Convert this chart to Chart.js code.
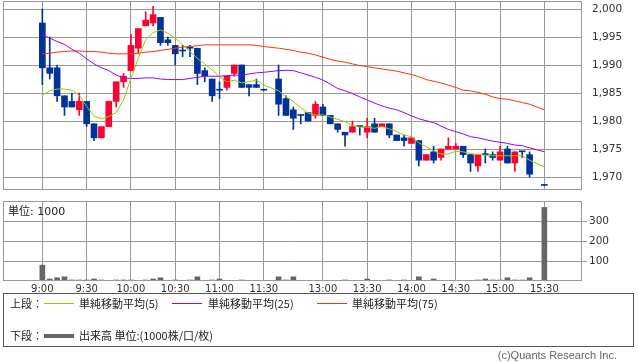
<!DOCTYPE html>
<html>
<head>
<meta charset="utf-8">
<script src="https://cdn.jsdelivr.net/npm/chart.js@4.4.1/dist/chart.umd.min.js"></script>
<style>
  body { margin: 0; background: #fff; width: 638px; height: 362px; overflow: hidden; position: relative; font-family: "DejaVu Sans", sans-serif; }
  canvas { position: absolute; left: 0; }
  #price { top: 0; }
  #vol { top: 196px; }
  .unit { position: absolute; left: 8px; top: 202px; font-size: 11px; color: #222; font-family: "DejaVu Sans", "Noto Sans CJK JP", sans-serif; }
  .legend { position: absolute; left: 3px; top: 293px; width: 629px; height: 52px; border: 1px solid #555; font-family: "Noto Sans CJK JP", sans-serif; font-size: 11px; color: #222; }
  .legend span { position: absolute; white-space: nowrap; line-height: 14px; }
  .legend i { position: absolute; width: 30px; }
  .copy { position: absolute; right: 21px; top: 349px; font-size: 11px; color: #666; font-family: "Liberation Sans", sans-serif; }
</style>
</head>
<body>
<canvas id="price" width="638" height="192"></canvas>
<canvas id="vol" width="638" height="100"></canvas>
<div class="unit">単位: 1000</div>
<div class="legend">
  <span style="left:6px;top:2px">上段：</span>
  <i style="left:40px;top:9px;height:1px;background:#99cc00"></i>
  <span style="left:75px;top:2px">単純移動平均(5)</span>
  <i style="left:168px;top:9px;height:1px;background:#9900ff"></i>
  <span style="left:204px;top:2px">単純移動平均(25)</span>
  <i style="left:313px;top:9px;height:1px;background:#ff3300"></i>
  <span style="left:348px;top:2px">単純移動平均(75)</span>
  <span style="left:6px;top:34px">下段：</span>
  <i style="left:40px;top:40px;height:4px;background:#666"></i>
  <span style="left:75px;top:34px">出来高 単位:(1000株/口/枚)</span>
</div>
<div class="copy">(c)Quants Research Inc.</div>
<script>
// 5-minute slots; '' is the lunch spacer
const times = [
  '9:00','9:05','9:10','9:15','9:20','9:25','9:30','9:35','9:40','9:45','9:50','9:55',
  '10:00','10:05','10:10','10:15','10:20','10:25','10:30','10:35','10:40','10:45','10:50','10:55',
  '11:00','11:05','11:10','11:15','11:20','11:25','11:30','',
  '12:30','12:35','12:40','12:45','12:50','12:55',
  '13:00','13:05','13:10','13:15','13:20','13:25','13:30','13:35','13:40','13:45','13:50','13:55',
  '14:00','14:05','14:10','14:15','14:20','14:25','14:30','14:35','14:40','14:45','14:50','14:55',
  '15:00','15:05','15:10','15:15','15:20','15:25','15:30'
];
const tickLabels = ['9:00','9:30','10:00','10:30','11:00','11:30','13:00','13:30','14:00','14:30','15:00','15:30'];
const priceTicks = [1970, 1975, 1980, 1985, 1990, 1995, 2000];
const volTicks = [100, 200, 300];

const open = [
  1997.5,1989.5,1989.5,1984.5,1983.5,1982,1983.5,1979.5,1977,1979,1983.5,1987,
  1989,1993,1997,1997.5,1998.5,1994.5,1993.5,1992.5,1993,1993,1989,1987.5,
  1985.5,1986,1988.5,1990,1986.5,1986.5,1985.5,null,
  1987.5,1984,1982,1981,1981.5,1981,1982.5,1981,1979.5,1978,1978,1979,
  1978,1979.5,1979,1979.5,1977.5,1977,1976,1976.5,1973,1974.5,1973.5,1975,
  1975,1975.5,1974,1972,1974,1974,1973,1975,1972.5,1974.5,1974,null,1968.5
];
const high = [
  2000,1995,1990,1984.5,1985,1985,1983.5,1979.5,1979,1983.5,1987,1988.5,
  1995.5,1996.5,1999.5,2000.5,1998.5,1995,1993.5,1993.5,1993.5,1993,1989.5,1987.5,
  1987,1988,1990,1990,1986.5,1987.5,1985.5,null,
  1990,1984.5,1982.5,1981,1981.5,1983.5,1983,1981,1979.5,1978,1980,1979,
  1980.5,1980.5,1979.5,1979.5,1977.5,1977.5,1977,1976.5,1974,1975.5,1975,1977,
  1976,1975.5,1974,1974,1975,1974.5,1975.5,1975.5,1974.5,1974.5,1974.5,null,1968.5
];
const low = [
  1986.5,1987.5,1983.5,1981,1982.5,1981,1979,1976.5,1977,1979,1982.5,1986,
  1989,1992,1997,1997,1993.5,1993.5,1990,1991.5,1991.5,1986.5,1987,1983.5,
  1984,1985.5,1988,1986,1984.5,1986,1985.5,null,
  1981,1981,1978.5,1979.5,1980,1980.5,1981,1979.5,1978,1975.5,1978,1977.5,
  1977,1978,1979,1977,1976.5,1975.5,1976,1972,1973,1972.5,1973,1975,
  1975,1973.5,1971,1971,1972.5,1973,1973,1972.5,1971,1973.5,1970,null,1968.5
];
const close = [
  1989.5,1988.5,1984.5,1982.5,1982.5,1983.5,1979.5,1977,1979,1983.5,1987,1988,
  1993.5,1996.5,1998,1999,1994,1994,1992,1992.5,1993,1988.5,1988,1984.5,
  1985.5,1988,1990,1986,1986,1986,1985.5,null,
  1983,1981,1980.5,1981,1980,1983,1981,1979.5,1978.5,1977.5,1979,1979,
  1979,1978,1979.5,1977.5,1976.5,1976.5,1977,1973,1974,1973,1975,1975.5,
  1975.5,1974,1972.5,1974,1974,1973.5,1974.5,1972.5,1974.5,1974.5,1970.5,null,1968.5
];
const ma5 = [
  1984.6,1985.4,1985.7,1985.7,1985.5,1984.6,1982.6,1980.9,1980.4,1980.8,1981.5,1983.75,
  1987.6,1991.2,1994.5,1995.8,1996.25,1995.7,1994.8,1993.6,1992.4,1991.2,1990.2,1989.1,
  1987.9,1987,1987.3,1986.8,1987,1987.3,1986.4,null,
  1985.4,1984.3,1983.5,1982.4,1981.4,1981.1,1981.1,1980.7,1980.3,1979.9,1979.2,1978.9,
  1978.9,1978.7,1979,1978.6,1978.1,1977.5,1977.2,1976.1,1975.4,1974.7,1974.1,1974.1,
  1974.6,1974.5,1974.2,1974,1973.9,1973.8,1973.8,1973.8,1973.8,1973.8,1973,null,1971.8
];
const ma25 = [
  1995.4,1994.8,1994.2,1993.7,1992.8,1992.1,1991.1,1990.2,1989.5,1989,1988.2,1987.7,
  1987.6,1987.6,1987.7,1987.7,1987.5,1987.4,1987.4,1987.4,1987.6,1987.8,1988,1988,
  1988,1988.1,1988.2,1988.2,1988.4,1988.6,1988.7,null,
  1989,1989.05,1989,1988.6,1988.2,1987.8,1987.3,1986.6,1985.8,1985.4,1984.9,1984.3,
  1983.75,1983.2,1982.7,1982.3,1982,1981.5,1980.9,1980.4,1980.05,1979.7,1979.1,1978.5,
  1978.1,1977.7,1977.2,1977,1976.7,1976.4,1976.2,1976,1975.7,1975.6,1975.2,null,1974.5
];
const ma75 = [
  1992,1992.1,1992.3,1992.4,1992.5,1992.5,1992.4,1992.4,1992.3,1992.1,1992,1992,
  1992,1992.1,1992.3,1992.4,1992.6,1992.8,1993,1993.2,1993.3,1993.45,1993.6,1993.6,
  1993.6,1993.6,1993.6,1993.6,1993.6,1993.5,1993.3,null,
  1993,1992.8,1992.6,1992.3,1992.1,1991.8,1991.4,1991,1990.7,1990.5,1990.2,1989.9,
  1989.7,1989.5,1989.3,1989.1,1988.9,1988.6,1988.3,1987.9,1987.4,1987.1,1986.8,1986.4,
  1986,1985.5,1985.4,1985.1,1984.8,1984.3,1984,1983.9,1983.6,1983.3,1983,null,1982
];
const volume = [
  79,10,16,21,5,5,5,10,5,1,5,5,
  5,2,5,10,16,2,5,2,5,21,2,5,
  10,2,2,5,2,2,2,null,
  21,5,21,2,2,2,2,2,2,5,2,2,
  10,2,2,5,2,5,2,21,2,10,2,2,
  2,2,2,5,10,5,5,16,5,5,16,null,368
];

const UP = '#ff0033', DOWN = '#003399';
const GRID = '#999';
const xMin = -5.33, xMax = 73.1;

// points for slots that have a value
function pts(arr) {
  const out = [];
  arr.forEach((v, i) => { if (v !== null) out.push({ x: i, y: v }); });
  return out;
}
function ranges(a, b) {
  const out = [];
  a.forEach((v, i) => { if (v !== null) out.push({ x: i, y: [a[i], b[i]] }); });
  return out;
}
const candleColors = pts(open).map(p => close[p.x] > open[p.x] ? UP : DOWN);

const frame = {
  id: 'frame',
  afterDraw(chart) {
    const a = chart.chartArea, ctx = chart.ctx;
    ctx.save();
    ctx.strokeStyle = GRID;
    ctx.lineWidth = 1;
    const l = Math.round(a.left) + 0.5, t = Math.round(a.top) + 0.5;
    const r = Math.round(a.right) - 0.5, b = Math.round(a.bottom) - 0.5;
    ctx.strokeRect(l, t, r - l, b - t);
    ctx.restore();
  }
};

// stop the label-overhang padding so the plot fills the frame
function noPad(s) {
  s.paddingTop = 0; s.paddingBottom = 0; s.paddingLeft = 0; s.paddingRight = 0;
}

function xScale(showLabels) {
  return {
    type: 'linear',
    min: xMin,
    max: xMax,
    offset: false,
    grid: { color: GRID, offset: false, drawTicks: false },
    border: { display: false },
    afterBuildTicks: s => { s.ticks = tickLabels.map(t => ({ value: times.indexOf(t) })); },
    afterFit: s => { s.height = showLabels ? 15 : 2; noPad(s); },
    ticks: {
      display: showLabels,
      autoSkip: false,
      maxRotation: 0,
      padding: 2,
      color: '#333',
      font: { family: 'DejaVu Sans', size: 10 },
      callback: (v, i) => tickLabels[i]
    }
  };
}

new Chart(document.getElementById('price'), {
  type: 'bar',
  data: {
    datasets: [
      { type: 'line', data: pts(ma5), borderColor: '#99cc00', borderWidth: 1, pointRadius: 0, order: 0 },
      { type: 'line', data: pts(ma25), borderColor: '#9900ff', borderWidth: 1, pointRadius: 0, order: 0 },
      { type: 'line', data: pts(ma75), borderColor: '#ff3300', borderWidth: 1, pointRadius: 0, order: 0 },
      { data: ranges(low, high), backgroundColor: candleColors, barThickness: 1, grouped: false, order: 2 },
      { data: ranges(open, close), backgroundColor: candleColors, barThickness: 6, minBarLength: 1, grouped: false, order: 1 }
    ]
  },
  options: {
    responsive: false,
    animation: false,
    layout: { padding: { left: 3, top: 1, right: 0, bottom: 0 } },
    plugins: { legend: { display: false }, tooltip: { enabled: false } },
    scales: {
      x: xScale(false),
      y: {
        position: 'right',
        min: 1967.68,
        max: 2001.43,
        grid: { color: GRID, drawTicks: false },
        border: { display: false },
        afterBuildTicks: s => { s.ticks = priceTicks.map(v => ({ value: v })); },
        afterFit: s => { s.width = 56; noPad(s); },
        ticks: {
          padding: 10,
          color: '#333',
          font: { family: 'DejaVu Sans', size: 10.5 },
          callback: v => v.toLocaleString('en-US')
        }
      }
    }
  },
  plugins: [frame]
});

new Chart(document.getElementById('vol'), {
  type: 'bar',
  data: {
    datasets: [
      { data: pts(volume), backgroundColor: '#666', barThickness: 5 }
    ]
  },
  options: {
    responsive: false,
    animation: false,
    layout: { padding: { left: 3, top: 5, right: 0, bottom: 0 } },
    plugins: { legend: { display: false }, tooltip: { enabled: false } },
    scales: {
      x: xScale(true),
      y: {
        position: 'right',
        min: 0,
        max: 400,
        grid: { color: GRID, tickLength: 5 },
        border: { display: false },
        afterBuildTicks: s => { s.ticks = volTicks.map(v => ({ value: v })); },
        afterFit: s => { s.width = 56; noPad(s); },
        ticks: {
          padding: 2,
          color: '#333',
          font: { family: 'DejaVu Sans', size: 10.5 }
        }
      }
    }
  },
  plugins: [frame]
});
</script>
</body>
</html>
